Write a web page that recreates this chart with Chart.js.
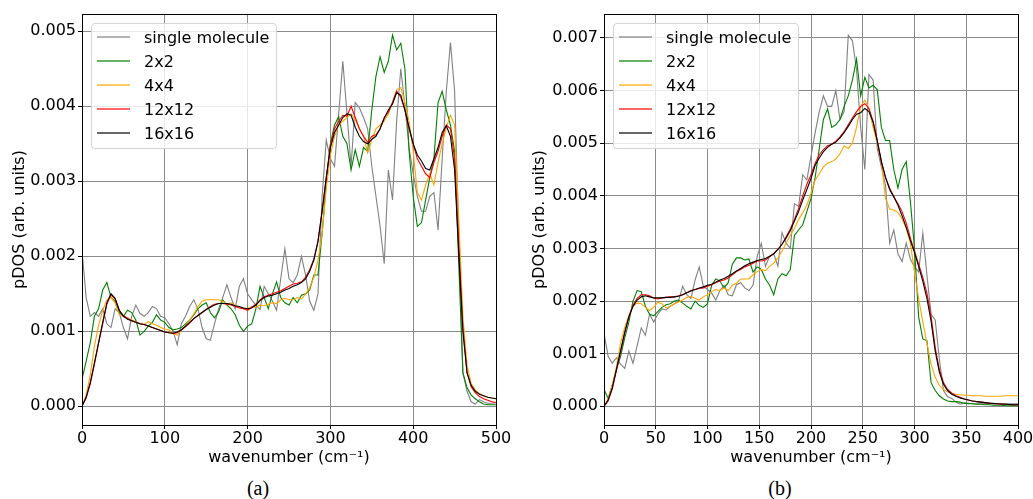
<!DOCTYPE html>
<html>
<head>
<meta charset="utf-8">
<script src="https://cdn.jsdelivr.net/npm/chart.js@4"></script>
<style>
  body { margin: 0; background: #fff; }
  #wrap { position: relative; width: 1033px; height: 499px; overflow: hidden; }
  .panel { position: absolute; top: 0; height: 470px; }
  .panel canvas { display: block; }
  .legend {
    position: absolute; width: 186px; box-sizing: border-box;
    padding: 1px 0 3px 0; border: 1px solid #d4d4d4; border-radius: 4px;
    background: rgba(255, 255, 255, 0.8);
    font: 16px "DejaVu Sans", sans-serif; color: #000;
  }
  .legend .row { height: 24px; display: flex; align-items: center; white-space: nowrap; }
  .legend .swatch { display: inline-block; width: 33px; height: 0; border-top: 2px solid; opacity: 0.6; margin: 0 14px 0 5px; }
  .caption {
    position: absolute; top: 477px; width: 60px; text-align: center;
    font: 20px "Liberation Serif", serif; line-height: 22px; color: #000;
  }
</style>
</head>
<body>
<div id="wrap">
  <div class="panel" style="left:0;width:520px">
    <canvas id="chartA" width="520" height="470"></canvas>
    <div class="legend" id="legendA"></div>
  </div>
  <div class="panel" style="left:520px;width:513px">
    <canvas id="chartB" width="513" height="470"></canvas>
    <div class="legend" id="legendB"></div>
  </div>
  <div class="caption" style="left:228px">(a)</div>
  <div class="caption" style="left:750px">(b)</div>
</div>
<script>
// pDOS values below are read in units of 1e-3 (arb. units)
const seriesNames = ['single molecule', '2x2', '4x4', '12x12', '16x16'];
const seriesColors = ['#808080', '#008000', '#ffa500', '#ff0000', '#000000'];

// panel (a)
const wavenumA = [0,5,10,15,20,25,30,35,40,45,50,55,60,65,70,75,80,85,90,95,
  100,105,110,115,120,125,130,135,140,145,150,155,160,165,170,175,180,185,190,195,
  200,205,210,215,220,225,230,235,240,245,250,255,260,265,270,275,280,285,290,295,
  300,305,310,315,320,325,330,335,340,345,350,355,360,365,370,375,380,385,390,395,
  400,405,410,415,420,425,430,435,440,445,450,455,460,465,470,475,480,485,490,495,500];
const singleA = [2.08,1.45,1.2,1.25,1.2,1.3,1.1,1.05,1.3,1.25,
  1.05,0.9,1.2,1.35,1.24,1.2,1.25,1.33,1.3,1.2,
  1.18,1.1,1.0,0.82,1.1,1.2,1.33,1.42,1.3,1.05,
  0.9,0.88,1.1,1.3,1.45,1.62,1.45,1.3,1.6,1.7,
  1.5,1.42,1.35,1.29,1.6,1.5,1.4,1.28,1.7,2.1,
  1.7,1.65,1.75,2.0,1.75,1.4,1.28,1.5,2.8,3.55,
  3.3,3.2,3.9,4.6,3.9,3.2,4.05,3.98,3.85,3.7,
  3.2,2.8,2.4,1.9,3.15,2.75,3.8,4.5,4.0,3.45,
  3.1,2.8,2.6,2.6,2.8,2.85,2.35,3.3,4.2,4.85,
  4.2,2.3,0.45,0.2,0.06,0.03,0.09,0.06,0.04,0.04,0.05];
const s2x2A = [0.36,0.6,0.85,1.2,1.3,1.55,1.65,1.45,1.4,1.25,
  1.2,1.28,1.25,1.15,0.95,1.0,1.07,1.12,1.22,1.15,
  1.12,1.05,1.02,1.03,1.05,1.1,1.15,1.22,1.3,1.35,
  1.38,1.25,1.18,1.26,1.42,1.35,1.3,1.22,1.08,1.0,
  1.07,1.1,1.3,1.6,1.45,1.3,1.5,1.66,1.45,1.38,
  1.35,1.45,1.38,1.48,1.5,1.55,1.75,1.75,2.3,3.0,
  3.5,3.75,3.86,3.6,3.5,3.15,3.42,3.2,3.45,3.4,
  3.95,4.4,4.66,4.45,4.6,4.95,4.75,4.84,4.5,3.4,
  2.8,2.4,2.45,2.75,3.05,3.3,4.05,4.2,3.95,3.75,
  3.4,1.9,0.45,0.25,0.15,0.1,0.06,0.03,0.02,0.02,0.02];
const s4x4A = [0,0.15,0.42,0.8,1.08,1.28,1.42,1.45,1.38,1.22,
  1.2,1.18,1.15,1.13,1.1,1.09,1.13,1.1,1.08,1.05,
  1.03,1.02,0.97,0.95,1.02,1.07,1.15,1.23,1.33,1.4,
  1.42,1.42,1.42,1.42,1.4,1.36,1.38,1.34,1.32,1.31,
  1.3,1.33,1.32,1.35,1.34,1.36,1.38,1.37,1.42,1.44,
  1.42,1.42,1.45,1.43,1.5,1.58,1.72,1.95,2.3,2.9,
  3.35,3.6,3.75,3.8,3.85,3.9,3.82,3.7,3.6,3.38,
  3.55,3.7,3.75,3.8,3.9,4.05,4.22,4.25,4.05,3.8,
  3.4,2.85,2.75,2.95,3.1,2.95,3.25,3.5,3.72,3.88,
  3.75,2.5,1.2,0.55,0.3,0.22,0.17,0.14,0.12,0.11,0.1];
const s12x12A = [0,0.11,0.3,0.56,0.84,1.1,1.36,1.49,1.43,1.28,
  1.21,1.17,1.14,1.12,1.1,1.09,1.07,1.05,1.03,1.01,
  0.99,0.98,0.97,0.98,1.02,1.06,1.11,1.17,1.21,1.25,
  1.29,1.33,1.36,1.37,1.37,1.36,1.35,1.33,1.31,1.3,
  1.28,1.32,1.36,1.42,1.46,1.48,1.5,1.52,1.54,1.57,
  1.6,1.63,1.64,1.66,1.72,1.82,1.96,2.2,2.6,3.05,
  3.48,3.7,3.8,3.88,3.87,4.0,3.85,3.7,3.6,3.52,
  3.6,3.62,3.7,3.85,3.92,4.05,4.2,4.12,3.95,3.7,
  3.5,3.3,3.2,3.1,3.05,3.25,3.4,3.6,3.75,3.7,
  3.3,2.15,1.05,0.45,0.26,0.18,0.13,0.1,0.08,0.06,0.05];
const s16x16A = [0,0.12,0.32,0.58,0.85,1.12,1.38,1.5,1.44,1.28,
  1.2,1.16,1.14,1.12,1.1,1.09,1.07,1.05,1.03,1.01,
  0.99,0.98,0.975,0.99,1.02,1.07,1.12,1.17,1.21,1.25,
  1.29,1.32,1.35,1.37,1.37,1.37,1.36,1.34,1.33,1.31,
  1.3,1.31,1.35,1.41,1.45,1.47,1.48,1.5,1.52,1.55,
  1.57,1.6,1.62,1.65,1.7,1.8,1.95,2.2,2.6,3.05,
  3.45,3.65,3.75,3.85,3.9,3.88,3.72,3.6,3.53,3.5,
  3.56,3.6,3.7,3.84,3.95,4.03,4.18,4.15,3.95,3.72,
  3.5,3.35,3.27,3.17,3.15,3.3,3.45,3.65,3.74,3.6,
  3.15,2.05,1.0,0.45,0.28,0.2,0.16,0.14,0.12,0.11,0.1];

// panel (b)
const wavenumB = [0,4,8,12,16,20,24,28,32,36,40,44,48,52,56,60,64,68,72,76,
  80,84,88,92,96,100,104,108,112,116,120,124,128,132,136,140,144,148,152,156,
  160,164,168,172,176,180,184,188,192,196,200,204,208,212,216,220,224,228,232,236,
  240,244,248,252,256,260,264,268,272,276,280,284,288,292,296,300,304,308,312,316,
  320,324,328,332,336,340,344,348,352,356,360,364,368,372,376,380,384,388,392,396,400];
const singleB = [1.39,0.95,0.82,0.92,0.8,0.72,1.05,0.82,1.15,1.49,
  1.35,1.75,1.6,1.75,1.85,1.83,1.9,1.95,2.0,2.28,
  2.12,2.05,2.4,2.65,2.28,2.22,2.15,2.02,2.2,2.3,
  2.12,2.1,2.31,2.35,2.25,2.2,2.3,2.85,3.1,2.66,
  2.85,2.9,2.66,3.3,3.1,3.0,3.85,3.8,4.4,4.3,
  4.75,5.2,5.6,5.9,5.7,5.7,6.0,5.45,5.6,7.05,
  6.95,6.4,5.3,4.5,6.3,6.2,4.9,4.55,4.2,3.1,
  3.35,2.9,2.75,3.1,2.8,2.65,2.55,3.29,2.5,1.75,
  1.64,0.9,0.3,0.18,0.15,0.08,0.04,0.06,0.06,0.05,
  0.05,0.05,0.05,0.05,0.05,0.05,0.05,0.05,0.05,0.05,0.05];
const s2x2B = [0.32,0.15,0.4,0.7,0.95,1.3,1.6,2.0,2.2,2.18,
  1.9,1.75,1.72,1.8,1.88,1.93,1.95,2.0,2.02,1.96,
  1.9,1.85,2.0,1.92,1.88,1.95,2.3,2.42,2.38,2.25,
  2.35,2.7,2.82,2.82,2.78,2.8,2.55,2.65,2.6,2.42,
  2.3,2.12,2.42,2.52,2.48,2.6,3.25,3.35,3.45,3.7,
  3.95,4.35,4.9,5.45,5.65,5.3,5.35,5.45,5.7,5.9,
  6.2,6.6,5.9,6.25,6.05,6.1,6.02,5.3,5.05,5.05,
  4.5,4.15,4.5,4.65,3.9,3.0,1.7,1.28,1.25,0.45,
  0.3,0.2,0.14,0.1,0.09,0.09,0.08,0.06,0.05,0.05,
  0.04,0.04,0.03,0.03,0.02,0.02,0.02,0.01,0.01,0.01,0.01];
const s4x4B = [0,0.15,0.4,0.75,1.2,1.5,1.72,1.9,1.96,1.95,
  1.88,1.82,1.88,1.98,1.95,1.87,1.9,1.95,1.98,2.02,
  2.07,2.09,2.05,2.02,2.08,2.12,2.18,2.22,2.2,2.25,
  2.2,2.3,2.34,2.42,2.42,2.42,2.5,2.56,2.6,2.58,
  2.66,2.72,2.82,2.95,3.1,3.25,3.38,3.55,3.68,3.82,
  4.05,4.3,4.42,4.55,4.62,4.65,4.7,4.8,4.95,4.9,
  5.0,5.3,5.7,5.82,5.65,5.3,5.0,4.65,3.95,3.75,
  3.73,3.68,3.56,3.38,3.1,2.55,2.05,1.6,1.2,0.8,
  0.55,0.4,0.32,0.27,0.25,0.23,0.22,0.21,0.21,0.2,
  0.2,0.2,0.19,0.19,0.19,0.19,0.19,0.2,0.2,0.2,0.2];
const s12x12B = [0,0.1,0.33,0.68,1.05,1.4,1.7,1.92,2.05,2.12,
  2.12,2.1,2.06,2.04,2.06,2.07,2.08,2.08,2.1,2.12,
  2.16,2.2,2.22,2.24,2.25,2.28,2.31,2.35,2.38,2.4,
  2.44,2.5,2.56,2.6,2.65,2.68,2.72,2.76,2.76,2.78,
  2.84,2.9,2.98,3.08,3.22,3.37,3.55,3.76,4.0,4.22,
  4.4,4.62,4.78,4.88,4.95,4.98,5.04,5.12,5.22,5.35,
  5.48,5.6,5.7,5.75,5.66,5.42,5.05,4.65,4.35,4.15,
  3.98,3.85,3.7,3.48,3.2,2.95,2.7,2.45,2.15,1.72,
  1.12,0.7,0.45,0.32,0.25,0.2,0.17,0.14,0.12,0.1,
  0.09,0.08,0.07,0.06,0.05,0.05,0.04,0.04,0.03,0.03,0.03];
const s16x16B = [0,0.12,0.35,0.7,1.05,1.4,1.7,1.9,2.02,2.08,
  2.1,2.08,2.06,2.06,2.06,2.07,2.07,2.08,2.09,2.12,
  2.16,2.19,2.22,2.25,2.27,2.3,2.32,2.36,2.4,2.43,
  2.47,2.52,2.57,2.62,2.67,2.71,2.74,2.77,2.79,2.81,
  2.85,2.9,2.98,3.08,3.2,3.34,3.52,3.7,3.92,4.12,
  4.33,4.58,4.72,4.84,4.92,4.98,5.02,5.1,5.2,5.32,
  5.45,5.55,5.58,5.66,5.6,5.4,5.05,4.65,4.35,4.12,
  3.98,3.82,3.62,3.4,3.15,2.92,2.66,2.38,2.05,1.62,
  1.05,0.65,0.42,0.3,0.23,0.19,0.16,0.14,0.12,0.1,
  0.09,0.08,0.07,0.06,0.055,0.05,0.045,0.04,0.035,0.03,0.03];

const font = { family: 'DejaVu Sans', size: 16 };

// html legend drawn inside the plot area, top-left
const htmlLegendPlugin = {
  id: 'htmlLegend',
  afterUpdate(chart, args, options) {
    const box = document.getElementById(options.containerID);
    box.innerHTML = '';
    chart.data.datasets.forEach(ds => {
      const row = document.createElement('div');
      row.className = 'row';
      const swatch = document.createElement('span');
      swatch.className = 'swatch';
      swatch.style.borderTopColor = ds.borderColor;
      const text = document.createElement('span');
      text.textContent = ds.label;
      row.appendChild(swatch);
      row.appendChild(text);
      box.appendChild(row);
    });
    box.style.left = (chart.chartArea.left + 9) + 'px';
    box.style.top = (chart.chartArea.top + 9) + 'px';
  }
};

// matplotlib style box round the axes
const framePlugin = {
  id: 'frame',
  afterDraw(chart) {
    const { ctx, chartArea: a } = chart;
    ctx.save();
    ctx.strokeStyle = '#000';
    ctx.lineWidth = 1;
    ctx.strokeRect(Math.round(a.left) + 0.5, Math.round(a.top) + 0.5,
      Math.round(a.right) - Math.round(a.left), Math.round(a.bottom) - Math.round(a.top));
    ctx.restore();
  }
};

function buildChart(canvasId, legendId, xs, ys, xMax, xStep, yMin, yMax, yAxisWidth, rightPad) {
  const datasets = ys.map((vals, i) => ({
    label: seriesNames[i],
    data: xs.map((x, j) => ({ x: x, y: vals[j] / 1000 })),
    borderColor: seriesColors[i],
    borderWidth: 1.1,
    pointRadius: 0,
    tension: 0,
    fill: false,
    order: ys.length - i
  }));

  const ctx = document.getElementById(canvasId).getContext('2d');
  return new Chart(ctx, {
    type: 'line',
    data: { datasets },
    plugins: [htmlLegendPlugin, framePlugin],
    options: {
      responsive: false,
      animation: false,
      events: [],
      layout: { padding: { top: 14, right: rightPad, bottom: 0, left: 0 } },
      plugins: {
        legend: { display: false },
        tooltip: { enabled: false },
        htmlLegend: { containerID: legendId }
      },
      scales: {
        x: {
          type: 'linear', min: 0, max: xMax,
          ticks: { stepSize: xStep, font, color: '#000', padding: 0, maxRotation: 0 },
          grid: { color: '#8a8a8a', lineWidth: 1, tickColor: '#000', tickLength: 4 },
          border: { color: '#000', width: 1 },
          title: { display: true, text: 'wavenumber (cm⁻¹)', font, color: '#000', padding: { top: 0, bottom: 3 } },
          afterFit: s => { s.height = 45; s.paddingLeft = 0; s.paddingRight = 0; }
        },
        y: {
          type: 'linear', min: yMin, max: yMax,
          ticks: { stepSize: 0.001, includeBounds: false, font, color: '#000', padding: 2,
            callback: v => v.toFixed(3) },
          grid: { color: '#8a8a8a', lineWidth: 1, tickColor: '#000', tickLength: 4 },
          border: { color: '#000', width: 1 },
          title: { display: true, text: 'pDOS (arb. units)', font, color: '#000', padding: { top: 10, bottom: 0 } },
          afterFit: s => { s.width = yAxisWidth; s.paddingTop = 0; s.paddingBottom = 0; }
        }
      }
    }
  });
}

buildChart('chartA', 'legendA', wavenumA, [singleA, s2x2A, s4x4A, s12x12A, s16x16A],
  500, 100, -0.000249, 0.00523, 82, 24);
buildChart('chartB', 'legendB', wavenumB, [singleB, s2x2B, s4x4B, s12x12B, s16x16B],
  400, 50, -0.000355, 0.007455, 84, 15);
</script>
</body>
</html>
